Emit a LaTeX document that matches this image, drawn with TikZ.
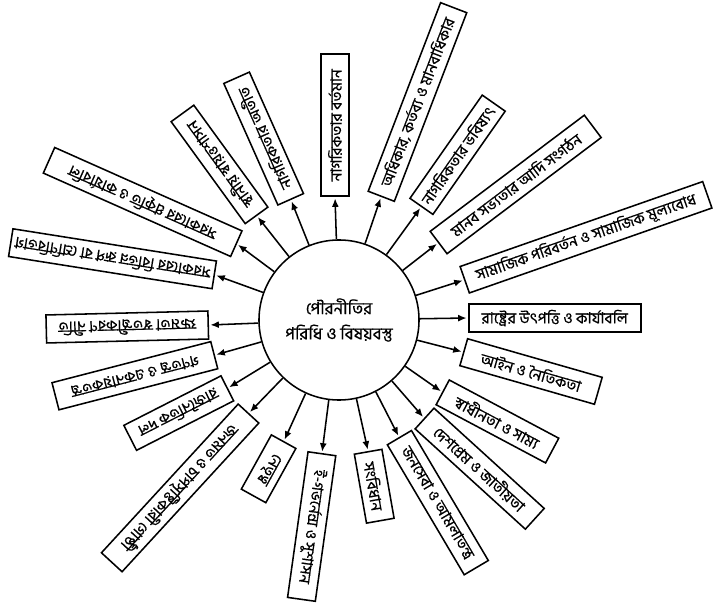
\documentclass[tikz,border=0pt]{standalone}
\usepackage{fontspec}
\usetikzlibrary{arrows.meta}
\newfontfamily\bnfont[Script=Bengali, FakeBold=0.5]{Hind Siliguri}
\newcommand{\topicbox}[6]{%
  \node[draw, line width=1.1pt, rotate=#4, anchor=west,
        minimum width=#5*0.025cm, minimum height=0.7cm, inner sep=1.5pt] (#1) at (#2,#3) {#6};}

\begin{document}
\begin{tikzpicture}[x=0.025cm, y=0.025cm, font=\bnfont\fontsize{11}{14}\selectfont]
  \fill[white] (0,0) rectangle (714,605);
  \useasboundingbox (0,0) rectangle (714,605);
  \node[draw, circle, line width=1.1pt, minimum size=4cm, align=center,
        font=\bnfont\fontsize{12}{15}\selectfont] (hub) at (339,285)
    {পৌরনীতির\\[3pt]পরিধি ও বিষয়বস্তু};
  \topicbox{t0}{468}{287}{0}{172}{রাষ্ট্রের উৎপত্তি ও কার্যাবলি}
  \topicbox{t1}{464}{325}{19.3}{257}{সামাজিক পরিবর্তন ও সামাজিক মূল্যবোধ}
  \topicbox{t2}{438}{362}{37}{193}{মানব সভ্যতার আদি সংগঠন}
  \topicbox{t3}{421}{398}{55}{126}{নাগরিকতার ভবিষ্যৎ}
  \topicbox{t4}{381}{408}{69}{202}{অধিকার, কর্তব্য ও মানবাধিকার}
  \topicbox{t5}{335}{408}{90}{142}{নাগরিকতার বর্তমান}
  \topicbox{t6}{291}{405}{114}{133}{নাগরিকতার অতীত}
  \topicbox{t7}{257}{389}{126}{126}{স্থানীয় স্বায়ত্তশাসন}
  \topicbox{t8}{237}{361}{156}{205}{সরকারের প্রকৃতি ও কার্যাবলি}
  \topicbox{t9}{215}{330}{171}{206}{সরকারের বিভিন্ন রূপ বা শ্রেণিবিভাগ}
  \topicbox{t10}{209}{280}{181.4}{162}{ক্ষমতা স্বতন্ত্রীকরণ নীতি}
  \topicbox{t11}{215}{250}{194.5}{164}{গণতন্ত্র ও একনায়কতন্ত্র}
  \topicbox{t12}{228}{217}{207}{109}{রাজনৈতিক দল}
  \topicbox{t13}{249}{192}{227.4}{202}{জনমত ও চাপসৃষ্টিকারী গোষ্ঠী}
  \topicbox{t14}{284}{164}{241}{62}{নেতৃত্ব}
  \topicbox{t15}{322}{152}{262}{147}{ই-গভর্নেন্স ও সুশাসন}
  \topicbox{t16}{368}{154}{280}{70}{সংবিধান}
  \topicbox{t17}{399}{168}{300.6}{151}{জনসেবা ও আমলাতন্ত্র}
  \topicbox{t18}{424}{187}{317.7}{149}{দেশপ্রেম ও জাতীয়তা}
  \topicbox{t19}{442}{213}{332}{124}{স্বাধীনতা ও সাম্য}
  \topicbox{t20}{463}{253}{344}{140}{আইন ও নৈতিকতা}
  \foreach \i in {0,...,20}
    \draw[-{Latex[length=6pt, width=5pt]}, line width=1.1pt, shorten >=1pt] (hub) -- (t\i.west);
\end{tikzpicture}
\end{document}
